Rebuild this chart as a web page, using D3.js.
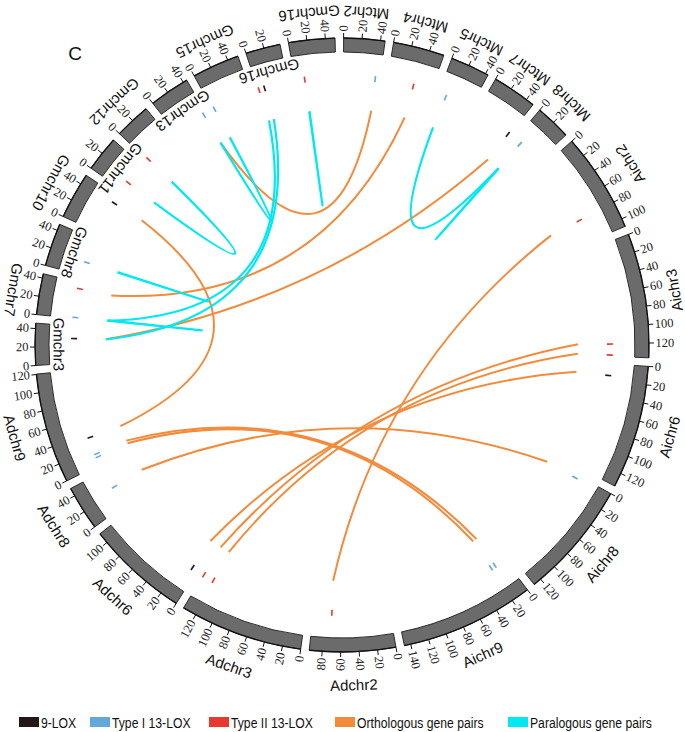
<!DOCTYPE html>
<html>
<head>
<meta charset="utf-8">
<script src="https://cdn.jsdelivr.net/npm/d3@7"></script>
<style>
  body { margin: 0; background: #fff; }
  svg { display: block; }
</style>
</head>
<body>
<svg id="chart"></svg>
<script>
// chromosomes in clockwise order, starting at the top
var chromIds = ["Mtchr2", "Mtchr4", "Mtchr5", "Mtchr7", "Mtchr8",
    "Aichr2", "Aichr3", "Aichr6", "Aichr8", "Aichr9",
    "Adchr2", "Adchr3", "Adchr6", "Adchr8", "Adchr9",
    "Gmchr3", "Gmchr7", "Gmchr8", "Gmchr10", "Gmchr11", "Gmchr12", "Gmchr13", "Gmchr15", "Gmchr16", "Gmchr16b"];
var chromLabels = ["Mtchr2", "Mtchr4", "Mtchr5", "Mtchr7", "Mtchr8",
    "Aichr2", "Aichr3", "Aichr6", "Aichr8", "Aichr9",
    "Adchr2", "Adchr3", "Adchr6", "Adchr8", "Adchr9",
    "Gmchr3", "Gmchr7", "Gmchr8", "Gmchr10", "Gmchr11", "Gmchr12", "Gmchr13", "Gmchr15", "Gmchr16", "Gmchr16"];
// chromosome length, Mb
var chromLengths = [45, 56, 43, 49, 39,
    109, 136, 135, 129, 147,
    94, 135, 112, 49, 120.5,
    45.8, 44.7, 47, 51, 39, 39.5, 44.4, 51.8, 38, 50.6];

// LOX genes: chromosome, position (Mb), type index
var loxChrom = ["Gmchr16b", "Gmchr16", "Gmchr16", "Gmchr13", "Gmchr15", "Gmchr12", "Gmchr11", "Gmchr10",
    "Gmchr8", "Gmchr7", "Gmchr7", "Gmchr3", "Adchr9", "Adchr9", "Adchr9", "Adchr8",
    "Adchr6", "Adchr3", "Adchr3", "Adchr2", "Aichr8", "Aichr9", "Aichr9", "Aichr3",
    "Aichr3", "Aichr6", "Mtchr2", "Mtchr4", "Mtchr5", "Mtchr7", "Mtchr8", "Aichr2"];
var loxPos = [11.9, 1.2, 8.3, 40.9, 2.3, 1.7, 11.7, 41.4,
    16.7, 37, 1.2, 30.2, 35.6, 13.7, 9.6, 25.6,
    6.9, 134.4, 121, 71, 4, 19.6, 14, 121,
    134.5, 14.6, 39.4, 33, 10, 47.5, 8.4, 80.4];
var loxType = [2, 2, 0, 1, 1, 2, 2, 0,
    1, 2, 1, 0, 0, 1, 1, 1,
    0, 2, 2, 2, 1, 1, 1, 2,
    2, 0, 1, 2, 1, 0, 1, 2];
var loxTypeNames = ["9-LOX", "Type I 13-LOX", "Type II 13-LOX"];
var loxColors = ["#231815", "#62a8d8", "#e8382f"];

// gene pairs: [chrom, pos, chrom, pos]
var orthoPairs = [
    ["Gmchr10", 41.4, "Adchr9", 35.6],
    ["Mtchr2", 39.4, "Gmchr13", 40.9],
    ["Mtchr4", 33, "Gmchr7", 37],
    ["Mtchr7", 47.5, "Gmchr3", 30.2],
    ["Aichr2", 80.4, "Adchr2", 71],
    ["Aichr3", 121, "Adchr3", 134.4],
    ["Aichr3", 134.5, "Adchr3", 121],
    ["Aichr6", 14.6, "Adchr6", 6.9],
    ["Adchr9", 13.7, "Aichr9", 14],
    ["Adchr9", 9.6, "Aichr9", 19.6],
    ["Adchr8", 25.6, "Aichr8", 4]
];
var paraPairs = [
    ["Gmchr16b", 11.9, "Gmchr16b", 12.4],
    ["Gmchr13", 40.9, "Gmchr15", 2.3],
    ["Gmchr11", 11.7, "Gmchr12", 1.7],
    ["Gmchr8", 16.7, "Gmchr8", 17.2],
    ["Gmchr7", 1.2, "Gmchr7", 1.7],
    ["Gmchr16", 1.2, "Gmchr7", 1.2],
    ["Gmchr16", 8.3, "Gmchr3", 30.2],
    ["Mtchr5", 10, "Mtchr8", 8.4],
    ["Mtchr8", 8.4, "Mtchr8", 8.9]
];
var pairNames = ["Orthologous gene pairs", "Paralogous gene pairs"];
var pairColors = ["#f28b3b", "#00e8f2"];

var svgWidth = 685;
var svgHeight = 732;
var cx = 342, cy = 345;
var rIn = 293, rOut = 307;
var rLink = 236, rCtrl = 46;
var gapDeg = 1.6, startDeg = 0.3;

var svg = d3.select("#chart")
    .attr("width", svgWidth)
    .attr("height", svgHeight);

var chartGroup = svg.append("g")
    .attr("transform", `translate(${cx}, ${cy})`);

// angular layout
var degPerMb = (360 - gapDeg * chromIds.length) / d3.sum(chromLengths);
var chroms = [];
var cursor = startDeg;
chromIds.forEach(function(id, i) {
    var a0 = cursor;
    var a1 = cursor + chromLengths[i] * degPerMb;
    chroms.push({
        id: id,
        label: chromLabels[i],
        len: chromLengths[i],
        start: a0,
        end: a1,
        scale: d3.scaleLinear().domain([0, chromLengths[i]]).range([a0, a1])
    });
    cursor = a1 + gapDeg;
});
var byId = {};
chroms.forEach(function(c) { byId[c.id] = c; });

function rad(deg) { return deg * Math.PI / 180; }
function pt(deg, r) { return [r * Math.sin(rad(deg)), -r * Math.cos(rad(deg))]; }
function angleOf(id, pos) { return byId[id].scale(pos); }

// chromosome bands
var arc = d3.arc().innerRadius(rIn).outerRadius(rOut);
chartGroup.selectAll("path.band")
    .data(chroms)
    .enter()
    .append("path")
    .attr("class", "band")
    .attr("d", d => arc({startAngle: rad(d.start), endAngle: rad(d.end)}))
    .attr("fill", "#6b6b6b")
    .attr("stroke", "#1c1c1c")
    .attr("stroke-width", 0.9);

// axis line on the outer edge
chartGroup.selectAll("path.axis")
    .data(chroms)
    .enter()
    .append("path")
    .attr("class", "axis")
    .attr("d", function(d) {
        var p = d3.path();
        p.arc(0, 0, rOut, rad(d.start - 90), rad(d.end - 90));
        return p.toString();
    })
    .attr("fill", "none")
    .attr("stroke", "#111")
    .attr("stroke-width", 1.3);

// ticks every 20 Mb
var ticks = [];
chroms.forEach(function(c) {
    d3.range(0, c.len + 0.01, 20).forEach(function(v) {
        ticks.push({chrom: c, value: v, angle: c.scale(v)});
    });
});

chartGroup.selectAll("line.tick")
    .data(ticks)
    .enter()
    .append("line")
    .attr("class", "tick")
    .attr("x1", d => pt(d.angle, rOut)[0])
    .attr("y1", d => pt(d.angle, rOut)[1])
    .attr("x2", d => pt(d.angle, rOut + 5)[0])
    .attr("y2", d => pt(d.angle, rOut + 5)[1])
    .attr("stroke", "#111")
    .attr("stroke-width", 1);

chartGroup.selectAll("text.ticklabel")
    .data(ticks)
    .enter()
    .append("text")
    .attr("class", "ticklabel")
    .attr("transform", function(d) {
        var flip = d.angle > 180 ? " rotate(180)" : "";
        return `rotate(${d.angle - 90}) translate(${rOut + 6.5}, 0)` + flip;
    })
    .attr("text-anchor", d => d.angle > 180 ? "end" : "start")
    .attr("dominant-baseline", "central")
    .attr("font-family", "'Liberation Serif', 'Times New Roman', serif")
    .attr("font-size", 12.5)
    .attr("fill", "#222")
    .text(d => d.value);

// chromosome labels (soybean ones alternate inside / outside)
var gmCount = 0;
chroms.forEach(function(c) {
    c.inner = false;
    c.labelR = c.id.indexOf("Ai") === 0 || c.id.indexOf("Ad") === 0 ? 340 : 333;
    if (c.id.indexOf("Gm") === 0) {
        c.inner = gmCount % 2 === 0;
        gmCount++;
    }
    if (c.inner) c.labelR = 283;
});

// keep outer labels inside the picture
function labelPoint(d) {
    var mid = (d.start + d.end) / 2;
    var r = d.labelR;
    var p = pt(mid, r);
    var margin = 11;
    var k = 1;
    if (cx + p[0] > svgWidth - margin) k = Math.min(k, (svgWidth - margin - cx) / p[0]);
    if (cx + p[0] < margin) k = Math.min(k, (margin - cx) / p[0]);
    if (cy + p[1] < margin) k = Math.min(k, (margin - cy) / p[1]);
    return pt(mid, r * k);
}

chartGroup.selectAll("text.chromlabel")
    .data(chroms)
    .enter()
    .append("text")
    .attr("class", "chromlabel")
    .attr("transform", function(d) {
        var mid = (d.start + d.end) / 2;
        var p = labelPoint(d);
        return `translate(${p[0]}, ${p[1]}) rotate(${mid - 180})`;
    })
    .attr("text-anchor", "middle")
    .attr("dominant-baseline", "central")
    .attr("font-family", "'Liberation Sans', Arial, sans-serif")
    .attr("font-size", 15)
    .attr("fill", "#111")
    .text(d => d.label);

// links
function linkPath(p) {
    var a = angleOf(p[0], p[1]);
    var b = angleOf(p[2], p[3]);
    var diff = ((b - a) % 360 + 540) % 360 - 180;
    var mid = a + diff / 2;
    var p0 = pt(a, rLink), p2 = pt(b, rLink), c = pt(mid, rCtrl);
    return `M${p0[0]},${p0[1]} Q${c[0]},${c[1]} ${p2[0]},${p2[1]}`;
}

chartGroup.selectAll("path.ortho")
    .data(orthoPairs)
    .enter()
    .append("path")
    .attr("class", "ortho")
    .attr("d", linkPath)
    .attr("fill", "none")
    .attr("stroke", pairColors[0])
    .attr("stroke-width", 2);

chartGroup.selectAll("path.para")
    .data(paraPairs)
    .enter()
    .append("path")
    .attr("class", "para")
    .attr("d", linkPath)
    .attr("fill", "none")
    .attr("stroke", pairColors[1])
    .attr("stroke-width", 2.2);

// LOX gene marks
var loxData = loxChrom.map(function(c, i) {
    return {angle: angleOf(c, loxPos[i]), type: loxType[i]};
});
chartGroup.selectAll("line.lox")
    .data(loxData)
    .enter()
    .append("line")
    .attr("class", "lox")
    .attr("x1", d => pt(d.angle, 265)[0])
    .attr("y1", d => pt(d.angle, 265)[1])
    .attr("x2", d => pt(d.angle, 271)[0])
    .attr("y2", d => pt(d.angle, 271)[1])
    .attr("stroke", d => loxColors[d.type])
    .attr("stroke-width", 1.6);

// panel letter
svg.append("text")
    .attr("x", 75)
    .attr("y", 60)
    .attr("text-anchor", "middle")
    .attr("font-family", "'Liberation Sans', Arial, sans-serif")
    .attr("font-size", 19)
    .attr("fill", "#111")
    .text("C");

// legend
var legendItems = loxTypeNames.map((n, i) => ({name: n, color: loxColors[i]}))
    .concat(pairNames.map((n, i) => ({name: n, color: pairColors[i]})));
var legendX = [19, 90, 209, 335, 508];
var legend = svg.selectAll("g.legend")
    .data(legendItems)
    .enter()
    .append("g")
    .attr("class", "legend")
    .attr("transform", (d, i) => `translate(${legendX[i]}, 717)`);
legend.append("rect")
    .attr("width", 20)
    .attr("height", 10)
    .attr("fill", d => d.color);
legend.append("text")
    .attr("x", 22)
    .attr("y", 5.5)
    .attr("dominant-baseline", "central")
    .attr("font-family", "'Liberation Sans', Arial, sans-serif")
    .attr("font-size", 14)
    .attr("fill", "#111")
    .text(d => d.name)
    .each(function() {
        // the legend type is slightly condensed in the original
        var w = this.getComputedTextLength();
        d3.select(this)
            .attr("textLength", w * 0.87)
            .attr("lengthAdjust", "spacingAndGlyphs");
    });
</script>
</body>
</html>
